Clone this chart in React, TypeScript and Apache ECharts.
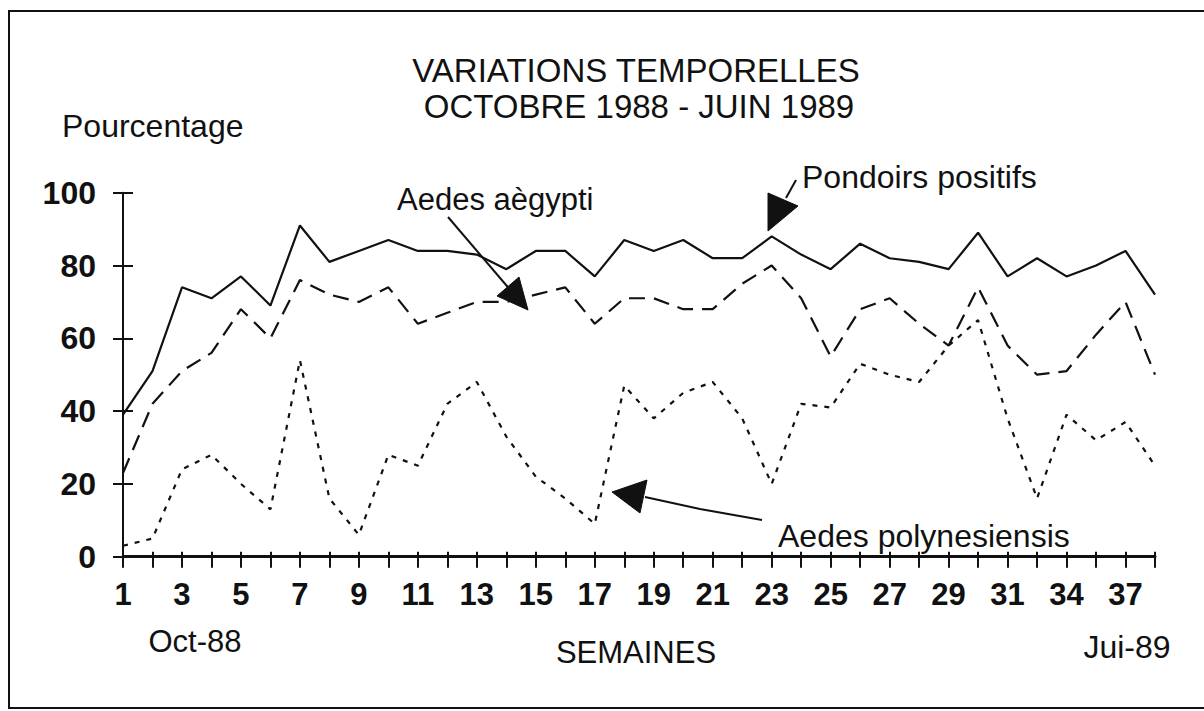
import React, { useEffect, useRef } from "react";
import * as echarts from "echarts";

const weeks = [
  "1","2","3","4","5","6","7","8","9","10","11","12","13","14","15","16","17","18","19","20",
  "21","22","23","24","25","26","27","28","29","30","31","32","34","35","37","38",
];
const pondoirsPositifs = [39, 51, 74, 71, 77, 69, 91, 81, 84, 87, 84, 84, 83, 79, 84, 84, 77, 87, 84, 87, 82, 82, 88, 83, 79, 86, 82, 81, 79, 89, 77, 82, 77, 80, 84, 72];
const aedesAegypti = [23, 42, 51, 56, 68, 60, 76, 72, 70, 74, 64, 67, 70, 70, 72, 74, 64, 71, 71, 68, 68, 75, 80, 71, 55, 68, 71, 64, 58, 74, 58, 50, 51, 61, 70, 50];
const aedesPolynesiensis = [3, 5, 24, 28, 20, 13, 54, 16, 6, 28, 25, 42, 48, 33, 22, 16, 9, 47, 38, 45, 48, 38, 20, 42, 41, 53, 50, 48, 58, 65, 38, 16, 39, 32, 37, 25];
const yTicks = { min: 0, max: 100, interval: 20 };

const FONT = "'Liberation Sans', Arial, sans-serif";

export default function App() {
  const ref = useRef<HTMLDivElement>(null);
  useEffect(() => {
    document.body.style.margin = "0";
    const chart = echarts.init(ref.current!, null, { renderer: "svg" });
    const txt = (text: string, x: number, y: number, size: number, align = "left", weight = "normal") => ({
      type: "text",
      x,
      y,
      style: {
        text,
        fontSize: size,
        fontFamily: FONT,
        fontWeight: weight,
        fill: "#111",
        textAlign: align,
        textVerticalAlign: "middle",
      },
    });
    const ln = (x1: number, y1: number, x2: number, y2: number, w = 2) => ({
      type: "line",
      shape: { x1, y1, x2, y2 },
      style: { stroke: "#111", lineWidth: w },
    });
    const tri = (pts: number[][]) => ({
      type: "polygon",
      shape: { points: pts },
      style: { fill: "#111", stroke: "#111", lineWidth: 1 },
    });
    chart.setOption({
      animation: false,
      backgroundColor: "#fff",
      grid: { left: 123, right: 49, top: 192.7, bottom: 154.3 },
      xAxis: [
        {
          type: "category",
          data: weeks,
          boundaryGap: false,
          axisLine: { lineStyle: { color: "#111", width: 3 } },
          axisTick: { show: true, interval: 0, length: 11, lineStyle: { color: "#111", width: 2 } },
          axisLabel: { interval: 1, margin: 22, color: "#111", fontSize: 31, fontWeight: "bold", fontFamily: FONT },
          splitLine: { show: false },
        },
        {
          type: "category",
          data: weeks,
          boundaryGap: false,
          position: "bottom",
          axisLine: { show: false },
          axisTick: { show: true, inside: true, interval: 0, length: 5, lineStyle: { color: "#111", width: 2 } },
          axisLabel: { show: false },
          splitLine: { show: false },
        },
      ],
      yAxis: [
        {
          type: "value",
          ...yTicks,
          axisLine: { show: true, lineStyle: { color: "#111", width: 2 } },
          axisTick: { show: true, length: 10, lineStyle: { color: "#111", width: 2 } },
          axisLabel: { margin: 27, color: "#111", fontSize: 32, fontWeight: "bold", fontFamily: FONT },
          splitLine: { show: false },
        },
        {
          type: "value",
          ...yTicks,
          position: "left",
          axisLine: { show: false },
          axisTick: { show: true, inside: true, length: 10, lineStyle: { color: "#111", width: 2 } },
          axisLabel: { show: false },
          splitLine: { show: false },
        },
      ],
      series: [
        {
          name: "Pondoirs positifs",
          type: "line",
          data: pondoirsPositifs,
          symbol: "none",
          lineStyle: { color: "#111", width: 2.2, type: "solid" },
        },
        {
          name: "Aedes aègypti",
          type: "line",
          data: aedesAegypti,
          symbol: "none",
          lineStyle: { color: "#111", width: 2.2, type: [16, 9] },
        },
        {
          name: "Aedes polynesiensis",
          type: "line",
          data: aedesPolynesiensis,
          symbol: "none",
          lineStyle: { color: "#111", width: 2.2, type: [5, 7] },
        },
      ],
      graphic: [
        {
          type: "polyline",
          shape: { points: [[1204, 11], [9, 11], [9, 708], [1204, 708]] },
          style: { stroke: "#111", lineWidth: 2, fill: "none" },
        },
        txt("VARIATIONS TEMPORELLES", 636, 70, 33, "center"),
        txt("OCTOBRE 1988 - JUIN 1989", 639, 106, 33, "center"),
        txt("Pourcentage", 62, 126, 32, "left"),
        txt("Oct-88", 195, 641, 31, "center"),
        txt("SEMAINES", 636, 652, 31, "center"),
        txt("Jui-89", 1127, 647, 32, "center"),
        txt("Aedes aègypti", 397, 199, 31, "left"),
        txt("Pondoirs positifs", 802, 177, 32, "left"),
        txt("Aedes polynesiensis", 778, 536, 32, "left"),
        ln(448, 217, 512, 292),
        tri([[528, 310], [497, 296], [519, 277]]),
        ln(796, 180, 786, 198),
        tri([[768, 193], [798, 206], [768, 231]]),
        {
          type: "polyline",
          shape: { points: [[762, 520], [700, 509], [645, 497]] },
          style: { stroke: "#111", lineWidth: 2, fill: "none" },
        },
        tri([[612, 492], [647, 480], [640, 513]]),
      ],
    });
    return () => chart.dispose();
  }, []);
  return <div ref={ref} style={{ width: 1204, height: 711 }} />;
}
